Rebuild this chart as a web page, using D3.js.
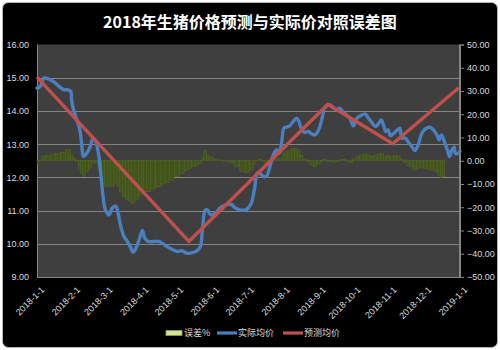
<!DOCTYPE html>
<html>
<head>
<meta charset="utf-8">
<script src="https://cdn.jsdelivr.net/npm/d3@7"></script>
<style>
  html, body { margin: 0; padding: 0; background: #ffffff; }
  svg text { font-family: "Liberation Sans", Arial, sans-serif; }
  .cjk { font-family: "Noto Sans CJK SC", "Noto Sans", sans-serif; }
</style>
</head>
<body>
<svg id="chart" width="500" height="350"></svg>
<script>
// ---- data -------------------------------------------------------------
const chartTitle = "2018年生猪价格预测与实际价对照误差图";
const seriesNames = ["误差%", "实际均价", "预测均价"];

const priceTicks = [9, 10, 11, 12, 13, 14, 15, 16];
const errorTicks = [-50, -40, -30, -20, -10, 0, 10, 20, 30, 40, 50];
const monthTicks = ["2018-01-01", "2018-02-01", "2018-03-01", "2018-04-01", "2018-05-01",
  "2018-06-01", "2018-07-01", "2018-08-01", "2018-09-01", "2018-10-01",
  "2018-11-01", "2018-12-01", "2019-01-01"];

// 实际均价 (元/公斤)
const actualPrice = [
  ["2018-01-01", 14.69], ["2018-01-04", 14.74], ["2018-01-07", 14.99], ["2018-01-11", 14.96],
  ["2018-01-15", 14.89], ["2018-01-20", 14.74], ["2018-01-24", 14.64], ["2018-01-27", 14.64],
  ["2018-01-30", 14.59], ["2018-01-31", 14.28], ["2018-02-02", 13.98], ["2018-02-04", 13.78],
  ["2018-02-07", 13.43], ["2018-02-09", 12.83], ["2018-02-10", 12.63], ["2018-02-13", 12.73],
  ["2018-02-16", 12.93], ["2018-02-18", 13.15], ["2018-02-20", 13.13], ["2018-02-23", 12.73],
  ["2018-02-25", 12.13], ["2018-02-27", 11.43], ["2018-03-01", 11.02], ["2018-03-04", 10.87],
  ["2018-03-07", 11.08], ["2018-03-10", 11.13], ["2018-03-12", 10.92], ["2018-03-14", 10.57],
  ["2018-03-17", 10.22], ["2018-03-20", 10.07], ["2018-03-23", 9.87], ["2018-03-25", 9.74],
  ["2018-03-28", 9.92], ["2018-03-31", 10.22], ["2018-04-02", 10.40], ["2018-04-04", 10.17],
  ["2018-04-07", 10.07], ["2018-04-12", 10.07], ["2018-04-16", 10.07], ["2018-04-19", 10.02],
  ["2018-04-23", 9.92], ["2018-04-27", 9.84], ["2018-05-02", 9.77], ["2018-05-06", 9.79],
  ["2018-05-10", 9.72], ["2018-05-13", 9.72], ["2018-05-18", 9.77], ["2018-05-20", 9.82],
  ["2018-05-22", 9.92], ["2018-05-24", 10.52], ["2018-05-26", 11.00], ["2018-05-28", 11.02],
  ["2018-05-31", 10.87], ["2018-06-04", 10.92], ["2018-06-08", 11.08], ["2018-06-14", 11.18],
  ["2018-06-18", 11.18], ["2018-06-21", 11.08], ["2018-06-25", 11.02], ["2018-06-30", 11.02],
  ["2018-07-02", 11.07], ["2018-07-05", 11.23], ["2018-07-08", 11.73], ["2018-07-10", 12.13],
  ["2018-07-12", 12.13], ["2018-07-15", 12.03], ["2018-07-18", 12.03], ["2018-07-21", 12.33],
  ["2018-07-24", 12.68], ["2018-07-27", 12.83], ["2018-07-29", 12.73], ["2018-07-31", 13.03],
  ["2018-08-02", 13.48], ["2018-08-04", 13.51], ["2018-08-07", 13.55], ["2018-08-10", 13.68],
  ["2018-08-13", 13.78], ["2018-08-15", 13.68], ["2018-08-17", 13.48], ["2018-08-20", 13.35],
  ["2018-08-23", 13.38], ["2018-08-26", 13.31], ["2018-08-29", 13.28], ["2018-09-01", 13.43],
  ["2018-09-04", 13.78], ["2018-09-06", 14.08], ["2018-09-08", 14.15], ["2018-09-11", 14.18],
  ["2018-09-14", 14.08], ["2018-09-17", 14.03], ["2018-09-19", 14.08], ["2018-09-22", 13.98],
  ["2018-09-25", 13.88], ["2018-09-28", 13.78], ["2018-10-01", 13.55], ["2018-10-04", 13.78],
  ["2018-10-07", 13.85], ["2018-10-11", 13.91], ["2018-10-14", 13.78], ["2018-10-17", 13.65],
  ["2018-10-20", 13.53], ["2018-10-23", 13.63], ["2018-10-25", 13.73], ["2018-10-27", 13.58],
  ["2018-10-29", 13.38], ["2018-10-31", 13.43], ["2018-11-02", 13.25], ["2018-11-05", 13.33],
  ["2018-11-08", 13.43], ["2018-11-10", 13.48], ["2018-11-12", 13.18], ["2018-11-15", 13.18],
  ["2018-11-17", 13.08], ["2018-11-20", 12.95], ["2018-11-23", 12.81], ["2018-11-26", 12.98],
  ["2018-11-28", 13.23], ["2018-11-30", 13.38], ["2018-12-03", 13.48], ["2018-12-06", 13.51],
  ["2018-12-09", 13.43], ["2018-12-12", 13.28], ["2018-12-14", 13.13], ["2018-12-16", 13.28],
  ["2018-12-19", 13.03], ["2018-12-21", 12.83], ["2018-12-23", 12.63], ["2018-12-25", 12.83],
  ["2018-12-27", 12.91], ["2018-12-28", 12.73], ["2018-12-31", 12.73], ["2019-01-01", 12.78]
];

// 预测均价 (元/公斤)
const forecastPrice = [
  ["2018-01-01", 15.02], ["2018-05-12", 10.07], ["2018-09-09", 14.20],
  ["2018-11-04", 13.01], ["2018-12-31", 14.70]
];

// 误差% = (实际 - 预测) / 预测
const errorPct = [
  ["2018-01-01", -1.4], ["2018-01-03", 0.3], ["2018-01-06", 1.7], ["2018-01-11", 2.4],
  ["2018-01-15", 2.9], ["2018-01-19", 3.2], ["2018-01-24", 3.6], ["2018-01-27", 4.6],
  ["2018-01-29", 4.9], ["2018-01-31", 2.4], ["2018-02-02", 1.0], ["2018-02-04", -0.4],
  ["2018-02-07", -3.3], ["2018-02-08", -5.5], ["2018-02-10", -6.6], ["2018-02-13", -4.7],
  ["2018-02-16", -3.3], ["2018-02-18", -1.1], ["2018-02-21", -0.9], ["2018-02-23", -3.3],
  ["2018-02-25", -6.2], ["2018-02-27", -9.8], ["2018-03-02", -11.2], ["2018-03-04", -10.9],
  ["2018-03-07", -11.2], ["2018-03-10", -10.0], ["2018-03-12", -11.2], ["2018-03-14", -13.3],
  ["2018-03-17", -15.5], ["2018-03-20", -16.6], ["2018-03-22", -17.6], ["2018-03-25", -18.4],
  ["2018-03-28", -16.9], ["2018-03-31", -14.8], ["2018-04-02", -12.6], ["2018-04-04", -13.3],
  ["2018-04-07", -13.3], ["2018-04-11", -12.2], ["2018-04-16", -11.2], ["2018-04-20", -10.0],
  ["2018-04-23", -9.5], ["2018-04-27", -8.3], ["2018-05-02", -6.9], ["2018-05-06", -5.5],
  ["2018-05-10", -4.3], ["2018-05-13", -3.3], ["2018-05-16", -2.6], ["2018-05-19", -1.9],
  ["2018-05-22", -1.1], ["2018-05-24", 1.0], ["2018-05-26", 4.6], ["2018-05-28", 2.4],
  ["2018-05-31", 1.4], ["2018-06-04", 0.7], ["2018-06-08", 0.3], ["2018-06-14", 0.0],
  ["2018-06-18", -0.9], ["2018-06-22", -2.3], ["2018-06-28", -4.7], ["2018-07-02", -5.2],
  ["2018-07-05", -4.0], ["2018-07-08", -1.4], ["2018-07-10", 0.3], ["2018-07-12", 0.6],
  ["2018-07-15", -0.4], ["2018-07-18", -1.1], ["2018-07-21", -1.4], ["2018-07-24", 0.0],
  ["2018-07-27", 1.0], ["2018-07-30", 1.0], ["2018-08-02", 3.2], ["2018-08-04", 3.9],
  ["2018-08-07", 4.6], ["2018-08-10", 5.3], ["2018-08-13", 5.3], ["2018-08-15", 4.6],
  ["2018-08-17", 2.4], ["2018-08-20", 0.6], ["2018-08-23", -0.4], ["2018-08-26", -1.9],
  ["2018-08-29", -2.6], ["2018-09-01", -1.4], ["2018-09-04", 0.0], ["2018-09-06", 0.7],
  ["2018-09-09", 0.0], ["2018-09-12", -0.4], ["2018-09-15", -0.6], ["2018-09-18", 0.0],
  ["2018-09-21", 0.7], ["2018-09-23", 0.6], ["2018-09-26", 0.0], ["2018-09-29", -0.9],
  ["2018-10-02", 1.0], ["2018-10-05", 2.0], ["2018-10-08", 2.4], ["2018-10-11", 2.9],
  ["2018-10-14", 2.4], ["2018-10-17", 1.7], ["2018-10-20", 2.4], ["2018-10-23", 2.9],
  ["2018-10-26", 3.2], ["2018-10-28", 2.0], ["2018-10-31", 2.4], ["2018-11-03", 1.7],
  ["2018-11-06", 2.4], ["2018-11-09", 2.0], ["2018-11-12", 0.6], ["2018-11-15", -0.9],
  ["2018-11-17", -1.9], ["2018-11-20", -2.6], ["2018-11-23", -4.0], ["2018-11-26", -3.3],
  ["2018-11-29", -2.9], ["2018-12-02", -3.3], ["2018-12-05", -3.7], ["2018-12-08", -4.0],
  ["2018-12-11", -4.7], ["2018-12-14", -6.2], ["2018-12-16", -7.2], ["2018-12-18", -6.9]
];

// ---- layout -----------------------------------------------------------
const W = 500, H = 350;
const plot = { left: 37, right: 460, top: 44.5, bottom: 277 };
const colors = { error: "#43541d", errorEdge: "#5b7026", actual: "#4a7fc0", forecast: "#c0504d" };

const parseDate = d3.timeParse("%Y-%m-%d");
const toPoints = arr => arr.map(([d, v]) => ({ date: parseDate(d), value: v }));
const actual = toPoints(actualPrice);
const forecast = toPoints(forecastPrice);
const errors = toPoints(errorPct);

const x = d3.scaleTime()
  .domain([parseDate(monthTicks[0]), parseDate(monthTicks[monthTicks.length - 1])])
  .range([plot.left, plot.right]);
const yPrice = d3.scaleLinear().domain(d3.extent(priceTicks)).range([plot.bottom, plot.top]);
const yError = d3.scaleLinear().domain(d3.extent(errorTicks)).range([plot.bottom, plot.top]);

const svg = d3.select("#chart");

// chart frame
svg.append("rect")
  .attr("x", 2.5).attr("y", 2.5).attr("width", W - 5).attr("height", H - 5)
  .attr("rx", 6).attr("fill", "#000").attr("stroke", "#b4b4b4").attr("stroke-width", 1);

// title
svg.append("text")
  .attr("class", "cjk")
  .attr("x", W / 2).attr("y", 28)
  .attr("text-anchor", "middle")
  .attr("fill", "#ffffff")
  .attr("font-size", 16).attr("font-weight", "bold")
  .text(chartTitle);

// plot background
svg.append("rect")
  .attr("x", plot.left).attr("y", plot.top)
  .attr("width", plot.right - plot.left).attr("height", plot.bottom - plot.top)
  .attr("fill", "#3f3f3f");

// horizontal gridlines on the price axis
svg.append("g").selectAll("line").data(priceTicks).join("line")
  .attr("x1", plot.left).attr("x2", plot.right)
  .attr("y1", d => Math.round(yPrice(d)) + 0.5).attr("y2", d => Math.round(yPrice(d)) + 0.5)
  .attr("stroke", d => (d === 16 ? "#3f3f3f" : "#858585")).attr("stroke-width", 1);

// plot edges
svg.append("line")
  .attr("x1", plot.left + 0.5).attr("x2", plot.left + 0.5)
  .attr("y1", plot.top).attr("y2", plot.bottom)
  .attr("stroke", "#858585");
svg.append("line")
  .attr("x1", plot.right - 0.5).attr("x2", plot.right - 0.5)
  .attr("y1", plot.top).attr("y2", plot.bottom)
  .attr("stroke", "#858585");

// 误差% columns
const barEdges = errors.map((d, i) => {
  const cx = x(d.date);
  const prev = i > 0 ? x(errors[i - 1].date) : null;
  const next = i < errors.length - 1 ? x(errors[i + 1].date) : null;
  const left = prev === null ? cx : (prev + cx) / 2;
  const right = next === null ? cx + (cx - prev) / 2 : (cx + next) / 2;
  return { left, right, value: d.value };
});
svg.append("g").selectAll("rect").data(barEdges).join("rect")
  .attr("x", d => d.left)
  .attr("width", d => Math.max(0.6, d.right - d.left))
  .attr("y", d => Math.min(yError(d.value), yError(0)))
  .attr("height", d => Math.max(0.6, Math.abs(yError(d.value) - yError(0))))
  .attr("fill", colors.error)
  .attr("stroke", colors.errorEdge)
  .attr("stroke-width", 0.4);

// price lines
const line = d3.line()
  .x(d => x(d.date))
  .y(d => yPrice(d.value));

svg.append("path")
  .datum(actual)
  .attr("d", line.curve(d3.curveCatmullRom.alpha(0.5)))
  .attr("fill", "none")
  .attr("stroke", colors.actual)
  .attr("stroke-width", 3.4)
  .attr("stroke-linejoin", "round").attr("stroke-linecap", "round");

svg.append("path")
  .datum(forecast)
  .attr("d", line.curve(d3.curveLinear))
  .attr("fill", "none")
  .attr("stroke", colors.forecast)
  .attr("stroke-width", 3.4)
  .attr("stroke-linejoin", "round");

// left axis (price)
const axisLeft = d3.axisLeft(yPrice).tickValues(priceTicks)
  .tickFormat(d3.format(".2f")).tickSize(0).tickPadding(8);
const gl = svg.append("g").attr("transform", `translate(${plot.left},0)`).call(axisLeft);
gl.select(".domain").remove();
gl.selectAll("text").attr("fill", "#d9d9d9").attr("font-size", 9);

// right axis (error %)
const axisRight = d3.axisRight(yError).tickValues(errorTicks)
  .tickFormat(d3.format(".2f")).tickSize(4).tickPadding(3);
const gr = svg.append("g").attr("transform", `translate(${plot.right},0)`).call(axisRight);
gr.select(".domain").attr("stroke", "#858585");
gr.selectAll(".tick line").attr("stroke", "#858585");
gr.selectAll("text").attr("fill", "#d9d9d9").attr("font-size", 9);

// bottom axis (dates)
const fmt = d3.timeFormat("%Y-%-m-%-d");
const gb = svg.append("g").attr("transform", `translate(0,${plot.bottom})`)
  .call(d3.axisBottom(x).tickValues(monthTicks.map(parseDate)).tickFormat(fmt).tickSize(0));
gb.select(".domain").remove();
gb.selectAll("text")
  .attr("fill", "#d9d9d9").attr("font-size", 9)
  .attr("text-anchor", "end")
  .attr("transform", "translate(3,9) rotate(-45)")
  .attr("dy", "0.7em").attr("y", 0).attr("x", 0);

// legend
const legendY = 333;
const legend = svg.append("g");
const items = [
  { name: seriesNames[0], type: "bar", color: colors.error, x: 166 },
  { name: seriesNames[1], type: "line", color: colors.actual, x: 217 },
  { name: seriesNames[2], type: "line", color: colors.forecast, x: 283 }
];
items.forEach(it => {
  if (it.type === "bar") {
    legend.append("rect")
      .attr("x", it.x).attr("y", legendY - 2.5).attr("width", 16).attr("height", 5)
      .attr("fill", "#d3e39f").attr("stroke", "#8aa33b").attr("stroke-width", 0.8);
  } else {
    legend.append("line")
      .attr("x1", it.x).attr("x2", it.x + 20)
      .attr("y1", legendY).attr("y2", legendY)
      .attr("stroke", it.color).attr("stroke-width", 3.2);
  }
  legend.append("text")
    .attr("class", "cjk")
    .attr("x", it.x + (it.type === "bar" ? 18 : 21)).attr("y", legendY)
    .attr("dy", "0.35em")
    .attr("fill", "#d9d9d9").attr("font-size", 9)
    .text(it.name);
});
</script>
</body>
</html>
